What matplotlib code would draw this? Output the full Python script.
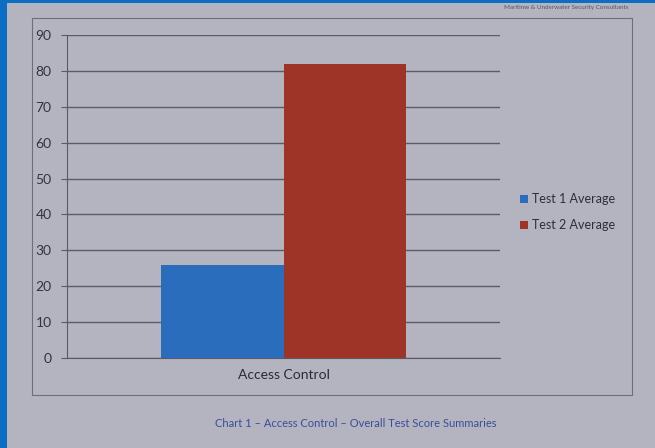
import matplotlib
matplotlib.use("Agg")
import matplotlib.pyplot as plt
from matplotlib.patches import Rectangle
import numpy as np

plt.rcParams["font.family"] = ["Lato", "DejaVu Sans"]

categories = ["Access Control"]
series_names = ["Test 1 Average", "Test 2 Average"]
test1 = [26]
test2 = [82]
yticks = [0, 10, 20, 30, 40, 50, 60, 70, 80, 90]

bg = "#b4b4c0"
fig = plt.figure(figsize=(6.55, 4.48), dpi=100, facecolor=bg)

# photo frame: blue strip on left and top
fig.patches.append(Rectangle((0, 0), 7/655, 1, transform=fig.transFigure,
                             facecolor="#0b6ec2", edgecolor="none", zorder=0))
fig.patches.append(Rectangle((0, 1-3/448), 1, 3/448, transform=fig.transFigure,
                             facecolor="#0b6ec2", edgecolor="none", zorder=0))
# chart border box
fig.patches.append(Rectangle((32/655, 1-395/448), 600/655, 377/448, transform=fig.transFigure,
                             facecolor="none", edgecolor="#6e6e78", linewidth=0.8, zorder=1))

ax = fig.add_axes([67/655, 1-358/448, 433/655, 323/448])
ax.set_facecolor(bg)
x = np.arange(len(categories))
w = 0.284
ax.bar(x - w/2, test1, width=w, color="#2b6dbd", label=series_names[0], zorder=3)
ax.bar(x + w/2, test2, width=w, color="#9e3328", label=series_names[1], zorder=3)

ax.set_xlim(-0.5, 0.5)
ax.set_ylim(0, 90)
ax.set_yticks(yticks)
ax.set_yticklabels([str(t) for t in yticks], fontsize=10, color="#34343c")
ax.set_xticks(x)
ax.set_xticklabels(categories, fontsize=10, color="#2a2a32")
ax.tick_params(axis="x", length=0, pad=8)
ax.tick_params(axis="y", length=4, color="#5a5a66", pad=7)
ax.yaxis.grid(True, color="#5c5c6a", linewidth=1.0, zorder=0)
for s in ["top", "right"]:
    ax.spines[s].set_visible(False)
ax.spines["left"].set_color("#5a5a66")
ax.spines["bottom"].set_color("#5a5a66")

fig.legend(loc="upper left", bbox_to_anchor=(509/655, 1-182/448), frameon=False,
           fontsize=9, handlelength=0.6, handleheight=0.6, handletextpad=0.35,
           labelspacing=1.1, labelcolor="#2e2e36")

fig.text(356/655, 1-423/448, "Chart 1 \u2013 Access Control \u2013 Overall Test Score Summaries",
         ha="center", va="center", fontsize=8, color="#3c4c98")
fig.text(628/655, 1-8/448, "Maritime & Underwater Security Consultants",
         ha="right", va="center", fontsize=4.5, color="#55555f")

fig.savefig("out.png", dpi=100, facecolor=bg)
